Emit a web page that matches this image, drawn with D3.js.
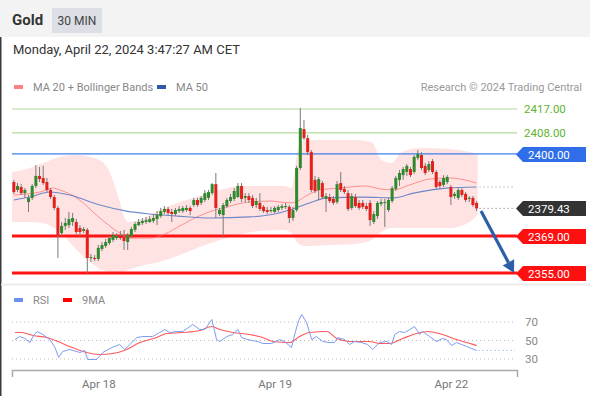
<!DOCTYPE html>
<html>
<head>
<meta charset="utf-8">
<script src="https://cdn.jsdelivr.net/npm/d3@7"></script>
<style>
  body { margin: 0; background: #fff; }
  svg { display: block; font-family: Roboto, "Liberation Sans", Arial, sans-serif; }
</style>
</head>
<body>
<div id="chart"></div>
<script>
// candle data, 30 min bars, index 0 = Apr 17 12:30
var opens = [2389.4, 2386.4, 2387.5, 2385.2, 2381.8, 2383.4, 2387.9, 2391.7, 2390.9, 2389.4,
  2386.4, 2383.7, 2379.6, 2370.1, 2372.8, 2373.1, 2374.3, 2374.3, 2372.0, 2370.9,
  2371.3, 2360.7, 2360.7, 2360.3, 2364.1, 2365.2, 2366.3, 2367.5, 2368.2, 2369.0,
  2368.6, 2366.7, 2369.0, 2371.3, 2373.1, 2373.9, 2374.3, 2374.3, 2374.7, 2375.4,
  2376.5, 2378.1, 2379.2, 2378.1, 2377.3, 2378.4, 2378.4, 2378.8, 2379.6, 2380.7,
  2382.6, 2381.5, 2382.6, 2383.4, 2385.2, 2388.6, 2377.3, 2376.9, 2380.3, 2382.2,
  2383.0, 2383.7, 2387.9, 2383.4, 2384.1, 2383.4, 2380.7, 2381.5, 2380.0, 2378.8,
  2378.4, 2378.1, 2378.8, 2379.6, 2380.0, 2380.0, 2375.8, 2378.8, 2394.7, 2409.4,
  2406.0, 2400.7, 2390.2, 2386.4, 2389.0, 2383.0, 2383.7, 2383.0, 2381.8, 2389.0,
  2386.8, 2385.2, 2379.6, 2383.7, 2381.5, 2381.5, 2380.3, 2381.5, 2374.3, 2376.5,
  2381.1, 2381.5, 2378.8, 2382.2, 2386.8, 2390.2, 2392.0, 2393.2, 2394.3, 2393.2,
  2398.5, 2399.6, 2395.5, 2393.9, 2397.3, 2393.2, 2389.4, 2388.3, 2389.4, 2387.5,
  2384.1, 2383.4, 2386.4, 2384.9, 2383.0, 2383.4, 2381.5];
var highs = [2390.2, 2389.0, 2388.6, 2387.1, 2384.5, 2388.6, 2395.8, 2395.1, 2395.5, 2390.9,
  2387.1, 2384.5, 2380.3, 2374.3, 2375.8, 2378.1, 2377.7, 2375.4, 2373.1, 2372.4,
  2372.0, 2362.2, 2361.8, 2365.6, 2366.7, 2367.9, 2369.0, 2370.5, 2370.1, 2370.9,
  2371.3, 2370.1, 2372.4, 2374.3, 2375.4, 2375.8, 2376.2, 2376.5, 2377.3, 2378.4,
  2379.6, 2380.3, 2380.0, 2379.2, 2379.6, 2380.3, 2380.3, 2380.7, 2380.3, 2383.4,
  2383.4, 2384.1, 2386.4, 2386.4, 2389.0, 2392.8, 2379.6, 2381.5, 2383.4, 2384.9,
  2387.1, 2389.0, 2389.0, 2385.2, 2385.2, 2384.5, 2383.4, 2385.2, 2380.7, 2380.0,
  2380.0, 2380.3, 2380.7, 2381.1, 2381.5, 2380.7, 2380.0, 2395.5, 2417.4, 2412.8,
  2407.2, 2401.5, 2391.7, 2391.3, 2389.8, 2385.2, 2384.9, 2384.1, 2389.8, 2393.2,
  2387.9, 2386.4, 2385.2, 2384.9, 2382.6, 2382.6, 2381.5, 2382.6, 2378.4, 2382.2,
  2383.0, 2383.0, 2383.4, 2387.9, 2391.7, 2393.9, 2395.1, 2396.2, 2395.1, 2399.6,
  2401.5, 2400.7, 2396.6, 2397.3, 2398.1, 2393.9, 2390.2, 2392.0, 2392.0, 2388.3,
  2385.6, 2387.1, 2387.1, 2385.6, 2384.1, 2384.1, 2382.2];
var lows = [2384.9, 2385.6, 2384.5, 2383.4, 2378.1, 2382.6, 2387.1, 2389.4, 2388.3, 2385.6,
  2383.0, 2378.8, 2360.7, 2369.0, 2371.3, 2372.0, 2372.8, 2369.7, 2369.0, 2370.1,
  2355.0, 2359.2, 2359.5, 2359.5, 2363.3, 2364.5, 2365.6, 2366.7, 2367.5, 2367.5,
  2363.7, 2363.7, 2368.2, 2370.5, 2372.8, 2373.1, 2373.5, 2373.9, 2373.9, 2373.1,
  2375.8, 2377.3, 2376.9, 2374.3, 2376.5, 2377.7, 2377.7, 2378.1, 2376.9, 2380.0,
  2380.0, 2380.7, 2381.8, 2382.6, 2384.5, 2375.8, 2376.5, 2369.0, 2379.6, 2381.5,
  2382.2, 2383.4, 2381.8, 2381.8, 2381.5, 2379.6, 2379.6, 2378.4, 2377.7, 2377.3,
  2377.7, 2377.7, 2378.1, 2378.8, 2379.2, 2373.9, 2374.7, 2378.1, 2393.9, 2405.3,
  2399.6, 2385.6, 2385.2, 2382.6, 2383.0, 2378.1, 2381.5, 2380.7, 2381.1, 2385.6,
  2384.9, 2378.4, 2378.8, 2379.6, 2378.8, 2379.2, 2378.4, 2372.8, 2373.5, 2375.4,
  2380.3, 2372.4, 2378.1, 2381.5, 2386.0, 2387.9, 2390.2, 2391.7, 2391.3, 2392.4,
  2397.7, 2393.9, 2392.0, 2393.2, 2392.4, 2386.8, 2386.8, 2387.5, 2388.6, 2380.7,
  2383.0, 2382.6, 2383.7, 2381.8, 2381.8, 2380.0, 2378.4];
var closes = [2385.6, 2387.9, 2385.2, 2386.4, 2383.4, 2387.9, 2391.7, 2390.5, 2389.0, 2386.4,
  2383.7, 2379.6, 2369.4, 2372.8, 2373.9, 2375.4, 2375.8, 2370.5, 2370.5, 2371.6,
  2360.7, 2361.0, 2360.3, 2364.5, 2365.6, 2366.7, 2368.2, 2369.4, 2369.0, 2368.2,
  2367.1, 2369.4, 2371.6, 2373.5, 2374.3, 2374.7, 2375.0, 2375.4, 2375.8, 2376.9,
  2378.4, 2379.2, 2377.7, 2377.3, 2378.8, 2379.2, 2379.6, 2379.6, 2378.4, 2382.6,
  2380.7, 2383.4, 2385.2, 2385.6, 2388.6, 2379.6, 2378.8, 2380.7, 2382.6, 2383.7,
  2386.0, 2387.9, 2383.0, 2384.1, 2382.6, 2380.3, 2382.2, 2379.2, 2378.4, 2378.1,
  2378.8, 2379.6, 2380.0, 2380.3, 2380.3, 2375.8, 2378.8, 2394.7, 2409.8, 2406.0,
  2400.7, 2386.4, 2386.0, 2390.5, 2383.7, 2384.1, 2382.2, 2381.5, 2388.6, 2386.4,
  2385.6, 2379.2, 2384.1, 2380.3, 2379.6, 2380.0, 2379.2, 2375.0, 2377.3, 2381.5,
  2381.8, 2381.8, 2382.6, 2387.1, 2390.9, 2392.8, 2394.3, 2395.5, 2392.0, 2398.9,
  2400.0, 2394.7, 2392.8, 2396.2, 2393.2, 2387.5, 2387.9, 2390.9, 2391.3, 2383.7,
  2384.9, 2386.4, 2384.5, 2382.6, 2383.4, 2380.7, 2379.43];

// indicators read at sample bars: [bar index, value]
var ma20 = [[0, 2384.5], [7.1, 2385.6], [10.6, 2387.1], [12.5, 2386.4], [17.1, 2383.4], [23.4, 2375.8],
  [28.8, 2370.1], [31.6, 2368.2], [37, 2368.2], [41.1, 2369.7], [45.2, 2372.8], [49.3, 2375.8],
  [54.7, 2378.8], [58.8, 2380.3], [63.7, 2381.8], [69.7, 2382.2], [75.1, 2381.5], [76.7, 2381.8],
  [79.5, 2384.1], [83.3, 2386.4], [88.7, 2387.1], [95.8, 2387.9], [99.6, 2386.8], [103.4, 2386.4],
  [107.8, 2388.3], [113.2, 2390.5], [118.6, 2390.9], [122.7, 2390.2], [126, 2389.0]];
var ma50 = [[0, 2382.6], [4.4, 2383.7], [9.8, 2385.6], [15.2, 2384.5], [23.4, 2380.7], [30.7, 2378.4],
  [37, 2377.3], [44.6, 2376.5], [53.6, 2375.8], [64.2, 2376.2], [71, 2377.3], [75.1, 2378.8],
  [80.5, 2381.5], [85.2, 2383.4], [95.2, 2383.7], [103.4, 2383.4], [108.8, 2385.2], [117.8, 2387.1],
  [126, 2387.5]];
// bollinger: [bar index, upper, lower]
var bands = [[-0.5, 2393.2, 2374.3], [4.4, 2394.7, 2374.3], [7.9, 2396.6, 2373.9], [12.5, 2398.9, 2370.5],
  [17.1, 2399.6, 2363.7], [20.7, 2398.9, 2359.2], [24.2, 2397.0, 2356.1], [26.1, 2393.2, 2355.4],
  [28.3, 2384.5, 2355.0], [31, 2374.3, 2356.1], [34.3, 2375.0, 2357.6], [39.7, 2378.8, 2359.2],
  [45.2, 2381.8, 2361.8], [50.6, 2384.1, 2364.8], [56.1, 2386.4, 2367.5], [61.5, 2387.9, 2369.4],
  [66.9, 2387.9, 2370.9], [73.7, 2387.9, 2371.3], [75.6, 2387.1, 2370.1], [77.3, 2401.5, 2366.3],
  [79.2, 2405.3, 2365.2], [86, 2405.3, 2365.6], [92.8, 2405.3, 2366.0], [97.4, 2404.5, 2367.5],
  [100.1, 2397.7, 2370.5], [102.9, 2396.6, 2372.0], [105.6, 2400.7, 2372.0], [110.5, 2402.3, 2372.0],
  [118.6, 2401.9, 2372.0], [124.1, 2400.7, 2374.3], [126.3, 2399.6, 2376.9]];

var rsi = [[0.3, 51.0], [1.6, 54.3], [3, 52.2], [4.4, 47.8], [5.2, 54.3], [6.3, 59.7], [7.9, 56.5],
  [9.8, 51.0], [11.2, 42.4], [12.2, 31.6], [13.3, 38.1], [15.2, 40.3], [18, 37.0], [19.3, 39.2],
  [20.1, 29.5], [22.6, 29.5], [24.2, 37.0], [26.7, 42.4], [28.8, 45.7], [30.2, 40.3], [31.6, 45.7],
  [33.5, 53.2], [35.1, 54.3], [37.8, 54.3], [39.7, 58.6], [41.1, 61.9], [42.4, 58.6], [44.4, 59.7],
  [46, 59.7], [48.7, 67.3], [50.6, 61.9], [52, 61.9], [53.9, 72.7], [55.2, 51.0], [56.1, 48.9],
  [58, 54.3], [59.6, 56.5], [61, 61.9], [62, 53.2], [63.7, 51.0], [66.4, 48.9], [67.8, 46.8],
  [70.2, 46.8], [72.4, 51.0], [73.7, 48.9], [75.6, 42.4], [76.7, 60.0], [77.6, 72.0], [78.4, 78.1],
  [79.7, 69.5], [81.1, 51.0], [82.4, 54.3], [84.1, 48.9], [86, 47.8], [87.3, 47.8], [88.2, 53.2],
  [90.1, 51.0], [91.4, 45.7], [92.8, 48.9], [94.7, 47.8], [96.3, 45.7], [97.7, 40.3], [99.6, 47.8],
  [101.5, 48.9], [102.9, 45.7], [103.7, 56.5], [105, 59.7], [106.4, 58.6], [107.8, 61.9], [109.1, 65.1],
  [110.5, 56.5], [111.3, 59.7], [113.2, 54.3], [115.1, 48.9], [116.7, 52.2], [117.8, 51.0], [119.2, 44.6],
  [120.5, 47.8], [121.9, 45.7], [123.3, 43.5], [124.6, 41.4], [126, 39.2]];
var rsiMa = [[0.3, 58.6], [2.2, 58.6], [5.2, 55.4], [9, 53.2], [12, 48.9], [15.2, 43.5], [18.8, 38.1],
  [23.4, 34.9], [26.9, 35.9], [30.7, 40.3], [34.3, 47.8], [38.9, 53.2], [41.6, 57.6], [46, 58.6],
  [50.6, 60.8], [53.9, 65.1], [56.1, 61.9], [59.6, 58.6], [64.2, 56.5], [67.8, 53.2], [70.5, 48.9],
  [75.1, 47.8], [77.8, 54.3], [80.5, 58.6], [85.2, 59.7], [87.9, 52.2], [91.4, 48.9], [96.9, 48.9],
  [99.6, 46.8], [102.3, 46.8], [105.9, 52.2], [109.7, 57.6], [112.7, 59.7], [116.7, 56.5],
  [120.5, 51.0], [123.3, 47.8], [126, 44.6]];

var dayTicks = [23, 71, 119];
var dayLabels = ["Apr 18", "Apr 19", "Apr 22"];
var rsiTicks = [70, 50, 30];

var levels = [
  { v: 2417, label: "2417.00", kind: "green" },
  { v: 2408, label: "2408.00", kind: "green" },
  { v: 2400, label: "2400.00", kind: "blue" },
  { v: 2369, label: "2369.00", kind: "red" },
  { v: 2355, label: "2355.00", kind: "red" }
];
var lastPrice = 2379.43;
var target = { from: [127.2, 2378.4], to: [136.2, 2355.0] };

var W = 590, H = 396;
var svg = d3.select("#chart").append("svg").attr("width", W).attr("height", H);

// header
svg.append("rect").attr("width", W).attr("height", 37).attr("fill", "#f3f3f3");
svg.append("line").attr("x1", 0.75).attr("x2", 0.75).attr("y1", 37).attr("y2", H)
  .attr("stroke", "#3a3a3a").attr("stroke-width", 1.5);
svg.append("text").attr("x", 12).attr("y", 25).text("Gold")
  .attr("font-size", 15).attr("font-weight", "bold").attr("fill", "#333");
svg.append("rect").attr("x", 52).attr("y", 8).attr("width", 50).attr("height", 25).attr("fill", "#dcdfe5");
svg.append("text").attr("x", 77).attr("y", 25).attr("text-anchor", "middle").text("30 MIN")
  .attr("font-size", 12).attr("fill", "#444");
svg.append("text").attr("x", 13).attr("y", 54).text("Monday, April 22, 2024 3:47:27 AM CET")
  .attr("font-size", 13).attr("fill", "#333");

// scales
var x = d3.scaleLinear().domain([-0.5, 137]).range([12, 517]);
var y = d3.scaleLinear().domain([2355, 2417]).range([273, 109]);
var ry = d3.scaleLinear().domain([30, 70]).range([359, 322]);

// legend
function legendItem(g, x0, yy, color, label) {
  g.append("rect").attr("x", x0).attr("y", yy - 2).attr("width", 9).attr("height", 4).attr("fill", color);
  g.append("text").attr("x", x0 + 19).attr("y", yy + 4).text(label).attr("font-size", 11).attr("fill", "#888");
}
legendItem(svg, 14, 87, "#ff8080", "MA 20 + Bollinger Bands");
legendItem(svg, 157, 87, "#3358a8", "MA 50");
svg.append("text").attr("x", 582).attr("y", 91).attr("text-anchor", "end")
  .text("Research \u00a9 2024 Trading Central").attr("font-size", 11).attr("fill", "#999");

var main = svg.append("g");

// bollinger area
var area = d3.area().curve(d3.curveMonotoneX)
  .x(function(d) { return x(d[0]); })
  .y0(function(d) { return y(d[2]); })
  .y1(function(d) { return y(d[1]); });
main.append("path").datum(bands).attr("d", area).attr("fill", "#ff1a1a").attr("fill-opacity", 0.12);

// level lines
var colors = { green: "#b3dc9a", blue: "#3f7ff0", red: "#ff1414" };
levels.forEach(function(l) {
  main.append("line").attr("x1", 12).attr("x2", 517).attr("y1", y(l.v)).attr("y2", y(l.v))
    .attr("stroke", colors[l.kind]).attr("stroke-width", l.kind == "red" ? 3 : 1.2);
});

var line = d3.line().curve(d3.curveMonotoneX)
  .x(function(d) { return x(d[0]); })
  .y(function(d) { return y(d[1]); });
main.append("path").datum(ma20).attr("d", line).attr("fill", "none")
  .attr("stroke", "#ff6a6a").attr("stroke-opacity", 0.7).attr("stroke-width", 1);
main.append("path").datum(ma50).attr("d", line).attr("fill", "none")
  .attr("stroke", "#4a6fc0").attr("stroke-opacity", 0.8).attr("stroke-width", 1.1);

// candles
var candles = d3.range(opens.length).map(function(i) {
  return { i: i, o: opens[i], h: highs[i], l: lows[i], c: closes[i] };
});
var cg = main.append("g");
cg.selectAll("line").data(candles).enter().append("line")
  .attr("x1", function(d) { return x(d.i); })
  .attr("x2", function(d) { return x(d.i); })
  .attr("y1", function(d) { return y(d.h); })
  .attr("y2", function(d) { return y(d.l); })
  .attr("stroke", "#7a7a7a").attr("stroke-width", 1);
cg.selectAll("rect").data(candles).enter().append("rect")
  .attr("x", function(d) { return x(d.i) - 1.5; })
  .attr("width", 3)
  .attr("y", function(d) { return y(Math.max(d.o, d.c)); })
  .attr("height", function(d) { return Math.max(1, Math.abs(y(d.o) - y(d.c))); })
  .attr("fill", function(d) { return d.c >= d.o ? "#2f8a2f" : "#e3201c"; });

// dotted extensions
var lastI = opens.length - 1;
main.append("line").attr("x1", x(lastI) + 3).attr("x2", 515)
  .attr("y1", y(ma50[ma50.length - 1][1])).attr("y2", y(ma50[ma50.length - 1][1]))
  .attr("stroke", "#8c99b8").attr("stroke-dasharray", "1,3");
main.append("line").attr("x1", x(lastI) + 3).attr("x2", 515)
  .attr("y1", y(lastPrice)).attr("y2", y(lastPrice))
  .attr("stroke", "#777").attr("stroke-dasharray", "1,3");

// target arrow
var ax0 = x(target.from[0]), ay0 = y(target.from[1]);
var ax1 = x(target.to[0]), ay1 = y(target.to[1]);
var ang = Math.atan2(ay1 - ay0, ax1 - ax0);
var hl = 12, hw = 6.5;
var bx = ax1 - hl * Math.cos(ang), by = ay1 - hl * Math.sin(ang);
main.append("line").attr("x1", ax0).attr("y1", ay0).attr("x2", bx).attr("y2", by)
  .attr("stroke", "#2d5ea8").attr("stroke-width", 3.2);
main.append("path").attr("fill", "#2d5ea8")
  .attr("d", "M" + ax1 + "," + ay1 +
    "L" + (bx - hw * Math.sin(ang)) + "," + (by + hw * Math.cos(ang)) +
    "L" + (bx + hw * Math.sin(ang)) + "," + (by - hw * Math.cos(ang)) + "Z");

// price labels
function tag(v, label, fill) {
  var yy = Math.round(y(v)) + 0.5;
  svg.append("path").attr("fill", fill)
    .attr("d", "M516," + yy + "L523," + (yy - 7.5) + "H586V" + (yy + 7.5) + "H523Z");
  svg.append("text").attr("x", 528).attr("y", yy + 4).text(label)
    .attr("font-size", 11.5).attr("fill", "#fff");
}
levels.forEach(function(l) {
  if (l.kind == "green") {
    svg.append("text").attr("x", 524).attr("y", y(l.v) + 4).text(l.label)
      .attr("font-size", 11.5).attr("fill", "#5db42e");
  } else {
    tag(l.v, l.label, l.kind == "blue" ? "#2f6ee8" : "#ff1010");
  }
});
tag(lastPrice, lastPrice.toFixed(2), "#333");

// separator
svg.append("line").attr("x1", 1).attr("x2", W).attr("y1", 284.5).attr("y2", 284.5)
  .attr("stroke", "#ececec").attr("stroke-width", 2);

// RSI panel
legendItem(svg, 14, 300, "#6c8ff0", "RSI");
legendItem(svg, 63, 300, "#ff0000", "9MA");

rsiTicks.forEach(function(t) {
  svg.append("line").attr("x1", 12).attr("x2", 515).attr("y1", ry(t)).attr("y2", ry(t))
    .attr("stroke", "#bbb").attr("stroke-dasharray", "1,3");
  svg.append("text").attr("x", 525).attr("y", ry(t) + 4).text(t)
    .attr("font-size", 11.5).attr("fill", "#888");
});

var rline = d3.line()
  .x(function(d) { return x(d[0]); })
  .y(function(d) { return ry(d[1]); });
svg.append("path").datum(rsiMa).attr("d", rline.curve(d3.curveMonotoneX)).attr("fill", "none")
  .attr("stroke", "#ff3030").attr("stroke-opacity", 0.8).attr("stroke-width", 1.1);
svg.append("path").datum(rsi).attr("d", rline.curve(d3.curveLinear)).attr("fill", "none")
  .attr("stroke", "#7c9cf2").attr("stroke-width", 1);
var lastR = rsi[rsi.length - 1][1];
svg.append("line").attr("x1", x(lastI) + 2).attr("x2", 515).attr("y1", ry(lastR)).attr("y2", ry(lastR))
  .attr("stroke", "#8aa6f2").attr("stroke-dasharray", "1,3");

// time axis
var xAxis = d3.axisBottom(x)
  .tickValues(dayTicks)
  .tickFormat(function(d, i) { return dayLabels[i]; })
  .tickSizeInner(0)
  .tickSizeOuter(7)
  .tickPadding(10);
var ax = svg.append("g").attr("transform", "translate(0,370)").call(xAxis);
ax.select(".domain").attr("stroke", "#aaa").attr("stroke-width", 1.5);
ax.selectAll("text").attr("font-size", 11.5).attr("fill", "#777")
  .attr("font-family", "Roboto, 'Liberation Sans', Arial, sans-serif");
</script>
</body>
</html>
